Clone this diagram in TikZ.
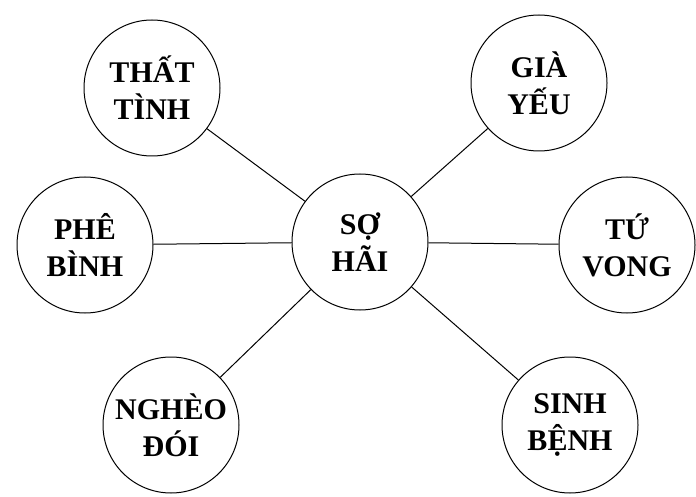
\documentclass[tikz,border=0pt]{standalone}
\usepackage{fontspec}
\setmainfont{Liberation Serif}
\begin{document}
\begin{tikzpicture}[x=1pt,y=1pt,
  bubble/.style={draw, circle, minimum size=136pt, inner sep=0pt, line width=1pt,
    align=center, font=\fontsize{30}{37}\selectfont\bfseries},
  link/.style={line width=1pt}]
\useasboundingbox (0,0) rectangle (696,496);
\node[bubble] (tt) at (152,408) {THẤT\\TÌNH};
\node[bubble] (gy) at (539,413) {GIÀ\\YẾU};
\node[bubble] (pb) at (85,251) {PHÊ\\BÌNH};
\node[bubble] (sh) at (360,254) {SỢ\\HÃI};
\node[bubble] (tv) at (627,251) {TỨ\\VONG};
\node[bubble] (nd) at (171,71) {NGHÈO\\ĐÓI};
\node[bubble] (sb) at (570,71) {SINH\\BỆNH};
\draw[link] (tt) -- (sh);
\draw[link] (gy) -- (sh);
\draw[link] (pb) -- (sh);
\draw[link] (tv) -- (sh);
\draw[link] (nd) -- (sh);
\draw[link] (sb) -- (sh);
\end{tikzpicture}
\end{document}
